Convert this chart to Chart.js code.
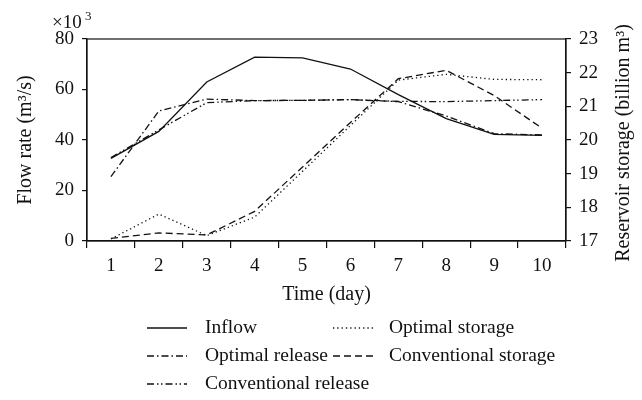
<!DOCTYPE html>
<html>
<head>
<meta charset="utf-8">
<script src="https://cdn.jsdelivr.net/npm/chart.js@4.4.0/dist/chart.umd.min.js"></script>
<style>
  html, body { margin: 0; padding: 0; background: #fff; }
  canvas { display: block; }
</style>
</head>
<body>
<canvas id="flowChart" width="642" height="400"></canvas>
<script>
const days = ['1', '2', '3', '4', '5', '6', '7', '8', '9', '10'];
const inflow = [32.7, 43.4, 63, 72.8, 72.5, 68.1, 58, 48.5, 42.2, 41.8];
const optimalRelease = [25.5, 51.5, 56.2, 55.6, 55.7, 56, 55.2, 49.5, 42.5, 42];
const conventionalRelease = [33, 44, 54.8, 55.6, 55.7, 56, 55.3, 55.2, 55.6, 56];
const optimalStorage = [17.06, 17.8, 17.16, 17.71, 19.07, 20.43, 21.78, 21.95, 21.8, 21.79];
const conventionalStorage = [17.08, 17.24, 17.18, 17.88, 19.2, 20.52, 21.82, 22.07, 21.32, 20.35];

const serif = '"Liberation Serif", "Times New Roman", serif';
const ink = '#111';

function makeSet(label, data, dash, axis) {
    return {
        label: label,
        data: data,
        yAxisID: axis,
        borderColor: ink,
        borderWidth: 1.3,
        borderDash: dash,
        pointRadius: 0,
        fill: false,
        tension: 0
    };
}

// frame, corner multiplier, right title and legend
const extras = {
    id: 'extras',
    afterDraw(chart) {
        const ctx = chart.ctx;
        const a = chart.chartArea;
        ctx.save();
        ctx.strokeStyle = ink;
        ctx.lineWidth = 1.2;
        ctx.strokeRect(a.left, a.top, a.right - a.left, a.bottom - a.top);

        ctx.fillStyle = ink;
        ctx.textBaseline = 'alphabetic';
        ctx.textAlign = 'left';
        ctx.font = '19px ' + serif;
        ctx.fillText('×10', 52, 28);
        ctx.font = '13px ' + serif;
        ctx.fillText('3', 85, 20);

        // right axis title, reading bottom to top
        ctx.save();
        ctx.translate(624, 143);
        ctx.rotate(-Math.PI / 2);
        ctx.font = '20px ' + serif;
        ctx.textAlign = 'center';
        ctx.textBaseline = 'middle';
        ctx.fillText('Reservoir storage (billion m³)', 0, 0);
        ctx.restore();

        // legend, two columns
        const slots = [[147, 328], [147, 356], [147, 384], [333, 328], [333, 356]];
        ctx.font = '19.5px ' + serif;
        ctx.textBaseline = 'middle';
        chart.data.datasets.forEach((ds, k) => {
            const [x, y] = slots[k];
            ctx.beginPath();
            ctx.setLineDash(ds.borderDash || []);
            ctx.lineWidth = 1.3;
            ctx.moveTo(x, y);
            ctx.lineTo(x + 40, y);
            ctx.stroke();
            ctx.setLineDash([]);
            ctx.fillText(ds.label, k < 3 ? x + 58 : x + 56, y);
        });
        ctx.restore();
    }
};

new Chart(document.getElementById('flowChart'), {
    type: 'line',
    data: {
        labels: days,
        datasets: [
            makeSet('Inflow', inflow, [], 'y'),
            makeSet('Optimal release', optimalRelease, [7, 3, 1.5, 3], 'y'),
            makeSet('Conventional release', conventionalRelease, [7, 3, 1.5, 2.5, 1.5, 3], 'y'),
            makeSet('Optimal storage', optimalStorage, [1.3, 3], 'y2'),
            makeSet('Conventional storage', conventionalStorage, [7, 4], 'y2')
        ]
    },
    options: {
        responsive: false,
        animation: false,
        layout: { padding: { top: 39, right: 0, bottom: 93, left: 0 } },
        plugins: {
            legend: { display: false },
            tooltip: { enabled: false }
        },
        scales: {
            x: {
                type: 'category',
                offset: true,
                grid: { offset: true, drawOnChartArea: false, tickLength: 7, color: ink, lineWidth: 1.2 },
                border: { color: ink, width: 1.2 },
                ticks: { color: ink, font: { family: serif, size: 19 }, padding: 7, maxRotation: 0 },
                title: { display: true, text: 'Time (day)', color: ink, font: { family: serif, size: 20 }, padding: 0 },
                afterFit(scale) { scale.height = 66; }
            },
            y: {
                position: 'left',
                min: 0,
                max: 80,
                grid: { drawOnChartArea: false, tickLength: 5, color: ink, lineWidth: 1.2 },
                border: { color: ink, width: 1.2 },
                ticks: { stepSize: 20, color: ink, font: { family: serif, size: 19 }, padding: 8 },
                title: { display: true, text: 'Flow rate (m³/s)', color: ink, font: { family: serif, size: 20 }, padding: { top: 14, bottom: 0 } },
                afterFit(scale) { scale.width = 87; }
            },
            y2: {
                position: 'right',
                min: 17,
                max: 23,
                grid: { drawOnChartArea: false, tickLength: 5, color: ink, lineWidth: 1.2 },
                border: { color: ink, width: 1.2 },
                ticks: { stepSize: 1, color: ink, font: { family: serif, size: 19 }, padding: 8 },
                afterFit(scale) { scale.width = 76; }
            }
        }
    },
    plugins: [extras]
});
</script>
</body>
</html>
